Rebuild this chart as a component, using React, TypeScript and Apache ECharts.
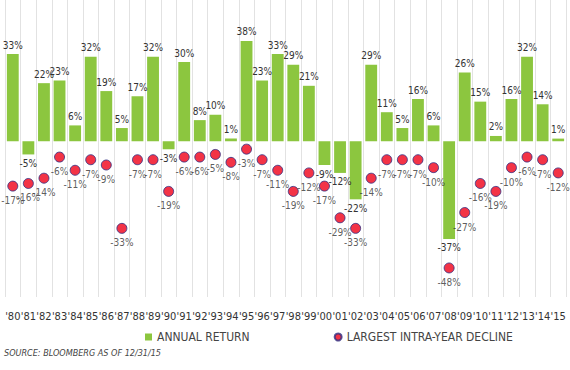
import React, { useEffect, useRef } from "react";
import * as echarts from "echarts";

const years = ["'80","'81","'82","'83","'84","'85","'86","'87","'88","'89","'90","'91","'92","'93","'94","'95","'96","'97","'98","'99","'00","'01","'02","'03","'04","'05","'06","'07","'08","'09","'10","'11","'12","'13","'14","'15"];
const annualReturn = [33,-5,22,23,6,32,19,5,17,32,-3,30,8,10,1,38,23,33,29,21,-9,-12,-22,29,11,5,16,6,-37,26,15,2,16,32,14,1];
const intraYearDecline = [-17,-16,-14,-6,-11,-7,-9,-33,-7,-7,-19,-6,-6,-5,-8,-3,-7,-11,-19,-12,-17,-29,-33,-14,-7,-7,-7,-10,-48,-27,-16,-19,-10,-6,-7,-12];
const seriesNames = ["ANNUAL RETURN", "LARGEST INTRA-YEAR DECLINE"];
const sourceText = "SOURCE: BLOOMBERG AS OF 12/31/15";

const FONT = "'Liberation Sans Narrow', 'DejaVu Sans Condensed', Lato, sans-serif";

export default function App() {
  const ref = useRef<HTMLDivElement>(null);
  useEffect(() => {
    if (!ref.current) return;
    const chart = echarts.init(ref.current, undefined, { renderer: "svg" });
    chart.setOption({
      animation: false,
      textStyle: { fontFamily: FONT },
      grid: { left: 5, right: 4, top: 0, height: 297, containLabel: false },
      legend: {
        left: 140,
        top: 326,
        itemWidth: 7,
        itemHeight: 7,
        itemGap: 84,
        textStyle: { fontSize: 12, color: "#444", fontFamily: FONT },
        data: [
          { name: seriesNames[0], icon: "rect" },
          { name: seriesNames[1], icon: "circle" },
        ],
      },
      xAxis: {
        type: "category",
        data: years,
        boundaryGap: true,
        position: "bottom",
        axisLine: { show: false },
        axisTick: { show: false },
        axisLabel: { color: "#333", fontSize: 11, margin: 14, fontFamily: FONT, interval: 0 },
        splitLine: { show: true, interval: 0, lineStyle: { color: "#e2e2e2", width: 1 } },
      },
      yAxis: {
        type: "value",
        min: -59,
        max: 53.5,
        show: false,
        splitLine: { show: false },
      },
      series: [
        {
          name: seriesNames[0],
          type: "bar",
          barWidth: "76%",
          itemStyle: { color: "#8cc63f" },
          data: annualReturn.map((v) => ({
            value: v,
            label: {
              show: true,
              position: v >= 0 ? "top" : "bottom",
              distance: 4,
              formatter: v + "%",
              fontSize: 10,
              color: "#333",
              fontFamily: FONT,
            },
          })),
        },
        {
          name: seriesNames[1],
          type: "scatter",
          symbol: "circle",
          symbolSize: 10,
          itemStyle: { color: "#f00018", borderColor: "#2e2c80", borderWidth: 1 },
          label: {
            show: true,
            position: "bottom",
            distance: 4,
            formatter: (p: any) => p.value + "%",
            fontSize: 10,
            color: "#333",
            fontFamily: FONT,
          },
          data: intraYearDecline,
          z: 3,
        },
      ],
      graphic: [
        {
          type: "text",
          left: 4,
          top: 348,
          style: {
            text: sourceText,
            fontSize: 9,
            fontStyle: "italic",
            fill: "#444",
            fontFamily: FONT,
          },
        },
      ],
    });
    return () => chart.dispose();
  }, []);
  return <div ref={ref} style={{ width: 570, height: 370, position: "absolute", left: 0, top: 0 }} />;
}
